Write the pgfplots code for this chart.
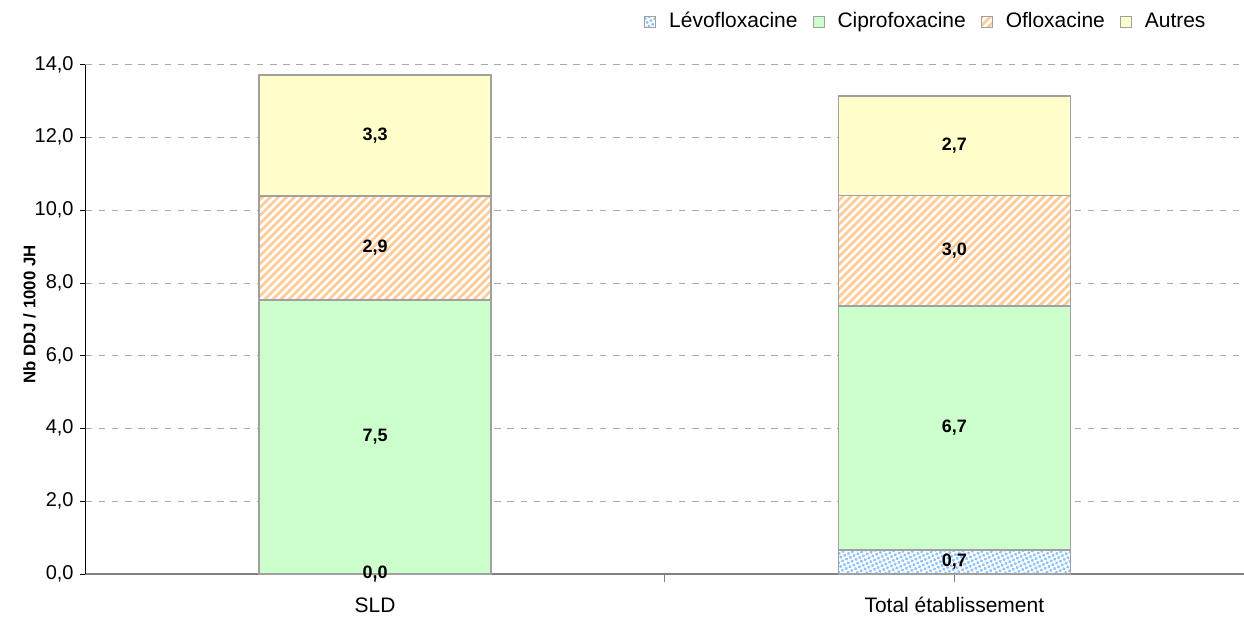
\documentclass[border=0pt]{standalone}
\usepackage{fontspec}
\setmainfont{Liberation Sans}
\usepackage{pgfplots}
\pgfplotsset{compat=1.18}
\usepackage{pgfplotstable}
\usetikzlibrary{patterns.meta}

\definecolor{levo}{RGB}{140,195,255}
\definecolor{cipro}{RGB}{204,255,204}
\definecolor{oflo}{RGB}{255,204,153}
\definecolor{autres}{RGB}{255,255,204}
\definecolor{barline}{RGB}{160,160,160}
\definecolor{gridgray}{RGB}{170,170,170}

% Nb DDJ / 1000 JH par molecule
\pgfplotstableread{
x levo cipro oflo autres
0 0.00 7.54 2.86 3.33
1 0.66 6.71 3.04 2.74
}\ddj

% value of the segment, printed in its middle
\pgfplotsset{
  seglabel/.style={
    visualization depends on={\thisrow{#1} \as \segval},
    nodes near coords={\pgfmathprintnumber[fixed,fixed zerofill,precision=1,use comma,assume math mode=true]{\segval}},
    every node near coord/.append style={anchor=center,
      font=\fontsize{9bp}{10bp}\selectfont\bfseries, inner sep=0pt},
  },
  bar/.style={draw=barline, line width=0.75bp},
}

\begin{document}
\begin{tikzpicture}
\useasboundingbox (-42.75bp,-23.2bp) rectangle (579.8bp,287.3bp);
\begin{axis}[
  scale only axis, width=579.8bp, height=254.8bp,
  ybar stacked, bar width=116bp,
  xmin=-0.5, xmax=1.5, ymin=0, ymax=14,
  clip=false,
  axis x line*=bottom, axis y line*=left,
  x axis line style={draw=gray, line width=0.75bp},
  y axis line style={draw=black, line width=0.5bp},
  tick align=outside,
  xtick={0.5}, xticklabels={},
  xtick style={draw=gray, line width=0.75bp, /pgfplots/major tick length=4bp},
  extra x ticks={0,1},
  extra x tick labels={SLD,Total établissement},
  extra x tick style={/pgfplots/major tick length=0pt},
  xticklabel style={font=\fontsize{10.5bp}{12bp}\selectfont, anchor=base, yshift=-19.2bp},
  ytick={0,2,...,14},
  ytick style={draw=black, line width=0.5bp, /pgfplots/major tick length=2.5bp},
  yticklabel style={font=\fontsize{10bp}{12bp}\selectfont, anchor=mid east, inner sep=0pt, xshift=-1.5bp,
    /pgf/number format/.cd, fixed, fixed zerofill, precision=1, use comma, assume math mode=true},
  ymajorgrids,
  grid style={draw=gridgray, line width=0.5bp, dash pattern=on 3.3bp off 3.3bp},
  ylabel={Nb DDJ / 1000 JH},
  ylabel style={font=\fontsize{8.4bp}{10bp}\selectfont\bfseries, at={(rel axis cs:0,0.51)}, anchor=center, yshift=28bp},
  legend style={at={(rel axis cs:0.9671,1.085)}, anchor=east, draw=none, fill=none, inner sep=0pt,
    legend columns=-1, font=\fontsize{10.5bp}{12bp}\selectfont, nodes={inner sep=0pt},
    /tikz/every odd column/.append style={column sep=6.5bp},
    /tikz/every even column/.append style={column sep=7.5bp}},
  legend image code/.code={\draw[#1, line width=0.5bp] (0bp,-2.75bp) rectangle (5.5bp,2.75bp);},
]
\addplot[bar, fill=white, postaction={pattern={Dots[radius=0.85bp,distance=2.1bp,angle=25]}, pattern color=levo}]
  table[x=x, y=levo] {\ddj};
\addplot[bar, fill=cipro, seglabel=cipro] table[x=x, y=cipro] {\ddj};
\addplot[bar, fill=white, postaction={pattern={Lines[angle=45,distance=2.85bp,line width=1.4bp]}, pattern color=oflo}, seglabel=oflo]
  table[x=x, y=oflo] {\ddj};
\addplot[bar, fill=autres, seglabel=autres] table[x=x, y=autres] {\ddj};
% labels of the first series, drawn again on top of the bars
\addplot[forget plot, stack plots=false, draw=none, fill=none, seglabel=levo]
  table[x=x, y=levo] {\ddj};
\legend{Lévofloxacine, Ciprofoxacine, Ofloxacine, Autres}
\end{axis}
\end{tikzpicture}
\end{document}
